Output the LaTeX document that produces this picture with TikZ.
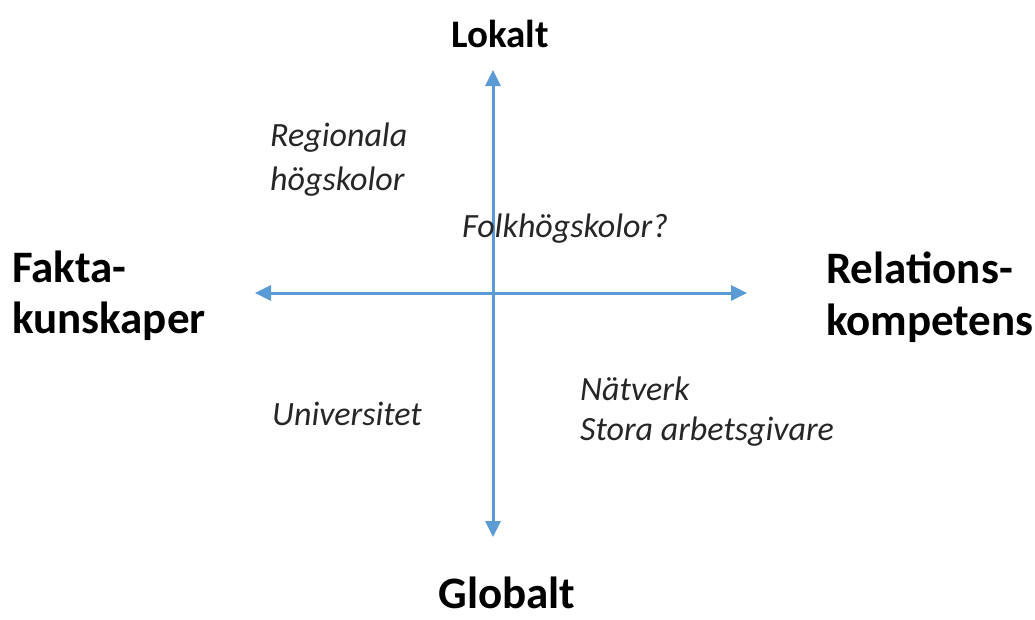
\documentclass[tikz,border=0pt]{standalone}
\usepackage{fontspec}
\setmainfont{Carlito}
\usetikzlibrary{arrows.meta}
\definecolor{axisblue}{HTML}{5B9BD5}
\begin{document}
\begin{tikzpicture}[x=1pt,y=-1pt,
  axis/.style={draw=axisblue,line width=3pt,-{Triangle[length=16pt,width=15pt]}},
  bigl/.style={inner sep=0pt,font=\bfseries\fontsize{45}{54}\selectfont},
  quad/.style={inner sep=0pt,anchor=base west,font=\itshape\fontsize{34}{41}\selectfont,text=black!85}]
\useasboundingbox (0,0) rectangle (1035,619);
\fill[white] (0,0) rectangle (1035,619);
% axes
\coordinate (c) at (493,293);
\coordinate (top) at (493,70);
\coordinate (bot) at (493,537);
\coordinate (lft) at (255,293);
\coordinate (rgt) at (747,293);
\draw[axis] (c) -- (top);
\draw[axis] (c) -- (bot);
\draw[axis] (c) -- (lft);
\draw[axis] (c) -- (rgt);
% axis labels
\node[bigl,anchor=base,font=\bfseries\fontsize{39}{47}\selectfont] (lokalt) at (500,47) {Lokalt};
\node[bigl,anchor=base,font=\bfseries\fontsize{45}{54}\selectfont] (globalt) at (507,608) {Globalt};
\node[bigl,anchor=base west] (fakta1) at (12,282) {Fakta-};
\node[bigl,anchor=base west] (fakta2) at (12,333) {kunskaper};
\node[bigl,anchor=base west] (rel1) at (826,283) {Relations-};
\node[bigl,anchor=base west] (rel2) at (826,335) {kompetens};
% quadrant labels
\node[quad] (reg1) at (270,146) {Regionala};
\node[quad] (reg2) at (270,190) {högskolor};
\node[quad] (folk) at (462,237) {Folkhögskolor?};
\node[quad] (uni) at (272,425) {Universitet};
\node[quad] (nat) at (580,400) {Nätverk};
\node[quad] (stora) at (580,440) {Stora arbetsgivare};
\end{tikzpicture}
\end{document}
